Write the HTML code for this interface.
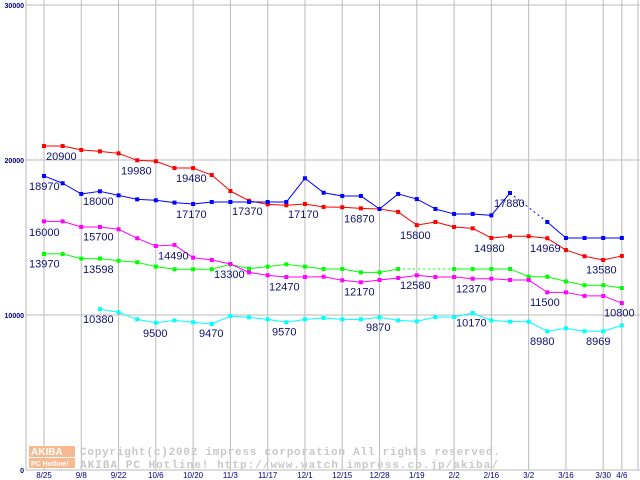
<!DOCTYPE html>
<html><head><meta charset="utf-8"><style>
body{margin:0;background:#fff}
svg{display:block}
</style></head><body>
<svg id="chart" width="640" height="480" xmlns="http://www.w3.org/2000/svg" font-family="Liberation Sans, sans-serif">
<rect x="0" y="0" width="640" height="480" fill="#fff"/>
<g id="grid"></g>
<g id="logo">
<rect x="29" y="446" width="46" height="11" fill="#f8b890"/>
<rect x="29" y="458" width="46" height="10" fill="#f8b890"/>
<text x="31" y="455" font-size="10" font-weight="bold" fill="#fff">AKIBA</text>
<text x="31" y="466" font-size="7" font-weight="bold" fill="#fff">PC Hotline!</text>
</g>
<text x="80" y="455" textLength="420" lengthAdjust="spacing" font-family="Liberation Mono, monospace" font-size="11" font-weight="bold" fill="#c8c8c8">Copyright(c)2002 impress corporation All rights reserved.</text>
<text x="80" y="468" textLength="418" lengthAdjust="spacing" font-family="Liberation Mono, monospace" font-size="11" font-weight="bold" fill="#c8c8c8">AKIBA PC Hotline!  http://www.watch.impress.co.jp/akiba/</text>
<g id="series"></g>
<g id="labels"></g>
</svg>
<script>
const xLabels=["8/25","9/8","9/22","10/6","10/20","11/3","11/17","12/1","12/15","12/28","1/19","2/2","2/16","3/2","3/16","3/30","4/6"];
const yTicks=[0,10000,20000,30000];
const N_=null;
const redVals=[20900,20900,20650,20560,20430,19980,19920,19480,19480,19030,18000,17370,17140,17080,17160,16970,16950,16880,16840,16650,15800,16000,15680,15590,14970,15080,15080,14950,14190,13790,13550,13810];
const blueVals=[18970,18500,17810,17980,17720,17460,17400,17250,17160,17290,17290,17290,17290,17290,18820,17890,17680,17680,16840,17810,17480,16840,16520,16520,16430,17870,N_,16000,14970,14970,14970,14970];
const magentaVals=[16040,16040,15680,15680,15530,14950,14450,14520,13700,13550,13290,12750,12560,12450,12450,12470,12240,12110,12260,12390,12560,12450,12450,12340,12340,12260,12260,11460,11460,11230,11230,10770];
const greenVals=[13940,13940,13640,13640,13500,13400,13120,12950,12950,12950,13270,12990,13120,13270,13120,12970,12970,12750,12750,12970,N_,N_,12970,12970,12970,12970,12470,12470,12170,11920,11920,11740];
const cyanVals=[N_,N_,N_,10380,10170,9720,9500,9650,9530,9420,9930,9850,9720,9530,9720,9810,9720,9720,9850,9650,9590,9870,9870,10130,9650,9570,9570,8950,9140,8950,8950,9330];
const labelTexts=["20900","19980","19480","18970","18000","17170","17370","17170","16870","15800","14980","14969","13580","17880","16000","15700","14490","13300","12470","12170","12580","12370","11500","10800","13970","13598","10380","9500","9470","9570","9870","10170","8980","8969"];
const labelVal=[20900,19980,19480,18970,18000,17170,17370,17170,16870,15800,14980,14969,13580,17880,16000,15700,14490,13300,12470,12170,12580,12370,11500,10800,13970,13598,10380,9500,9470,9570,9870,10170,8980,8969];
// layout only: left x of each label text
const labelLeft=[46,121,176,29,83,176,232,288,344,400,474,530,586,494,29,83,158,214,269,344,400,456,530,604,29,83,83,143,199,272,366,456,530,586];
const NS="http://www.w3.org/2000/svg";
const X0=44,DX=18.64,Y0=470,YS=15.5/1000;
function xPos(i){return X0+i*DX;}
function yPos(v){return Y0-v*YS;}
function mk(tag,attrs,parent){const e=document.createElementNS(NS,tag);for(const k in attrs)e.setAttribute(k,attrs[k]);parent.appendChild(e);return e;}
const grid=document.getElementById('grid');
yTicks.forEach(v=>{
  const l=mk('line',{x1:26,x2:640,y1:yPos(v),y2:yPos(v),stroke:'#bbb','stroke-width':1},grid);
  
  
  const t=mk('text',{x:24,y:yPos(v)+3,'font-size':7,'font-weight':'bold',fill:'#000080','text-anchor':'end'},grid);
  t.textContent=v;
  
  
});
const gi=[0,2,4,6,8,10,12,14,16,18,20,22,24,26,28,30,31];
xLabels.forEach((lab,k)=>{
  const x=xPos(gi[k]);
  const l=mk('line',{x1:x,x2:x,y1:0,y2:470,stroke:'#bbb','stroke-width':1},grid);
  
  
  const t=mk('text',{x:x,y:478,'font-size':8,fill:'#000080','text-anchor':'middle'},grid);
  t.textContent=lab;
  
  
});
mk('line',{x1:26,x2:26,y1:0,y2:470,stroke:'#bbb'},grid);
mk('line',{x1:638,x2:638,y1:0,y2:470,stroke:'#bbb'},grid);
const sg=document.getElementById('series');
function drawSeries(vals,color,name){
  const g=mk('g',{},sg);
  
  
  let prev=-1;
  vals.forEach((v,i)=>{
    if(v===null)return;
    if(prev>=0){
      const l=mk('line',{x1:xPos(prev),y1:yPos(vals[prev]),x2:xPos(i),y2:yPos(v),stroke:color,'stroke-width':1},g);
      if(i-prev>1)l.setAttribute('stroke-dasharray','2,3');
    }
    prev=i;
  });
  vals.forEach((v,i)=>{
    if(v===null)return;
    const r=mk('rect',{x:xPos(i)-2,y:yPos(v)-2,width:4,height:4,fill:color},g);
    
    
  });
}
drawSeries(cyanVals,'#00ffff','series-cyan');
drawSeries(greenVals,'#00ff00','series-green');
drawSeries(magentaVals,'#ff00ff','series-magenta');
drawSeries(redVals,'#ff0000','series-red');
drawSeries(blueVals,'#0000ff','series-blue');
const lg=document.getElementById('labels');
labelTexts.forEach((txt,k)=>{
  const t=mk('text',{x:labelLeft[k],y:yPos(labelVal[k])+14,'font-size':11,fill:'#101070'},lg);
  t.textContent=txt;
  
  
});
</script>
</body></html>
